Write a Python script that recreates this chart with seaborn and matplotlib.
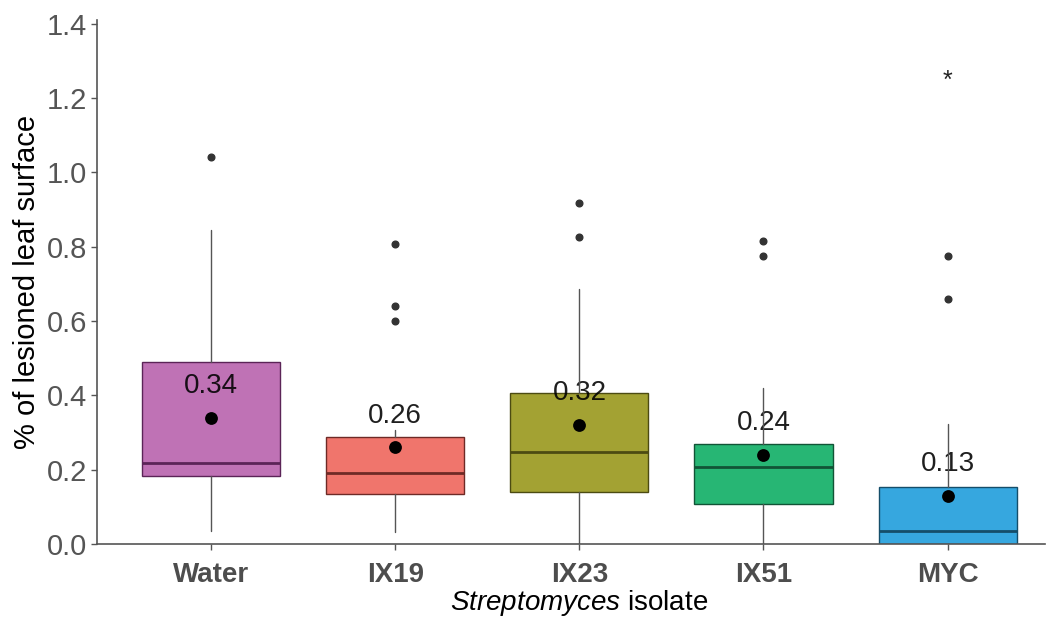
import matplotlib
matplotlib.use("Agg")
import matplotlib.pyplot as plt
import seaborn as sns
import pandas as pd

# ---- data ----
groups = ["Water", "IX19", "IX23", "IX51", "MYC"]
q1 = [0.183, 0.134, 0.140, 0.107, 0.000]
med = [0.217, 0.190, 0.247, 0.207, 0.035]
q3 = [0.490, 0.287, 0.405, 0.268, 0.153]
whislo = [0.035, 0.032, 0.000, 0.000, 0.000]
whishi = [0.846, 0.306, 0.687, 0.420, 0.322]
fliers = [[1.040], [0.808, 0.639, 0.599], [0.918, 0.827], [0.816, 0.776], [0.776, 0.660]]
means = [0.34, 0.26, 0.32, 0.24, 0.13]
mean_labels = ["0.34", "0.26", "0.32", "0.24", "0.13"]
star_value = 1.245
yticks = [0.0, 0.2, 0.4, 0.6, 0.8, 1.0, 1.2, 1.4]

fills = ["#BF72B5", "#F0756C", "#A3A233", "#27B674", "#36A7DF"]
edges = ["#5B2457", "#6E2A26", "#4C4B12", "#115436", "#154E6A"]

sns.set_theme(style="ticks")
plt.rcParams["font.family"] = ["Liberation Sans", "DejaVu Sans"]
plt.rcParams["mathtext.fontset"] = "custom"
plt.rcParams["mathtext.it"] = "Liberation Sans:italic"
plt.rcParams["mathtext.rm"] = "Liberation Sans"

fig = plt.figure(figsize=(10.5, 6.23), dpi=100)
ax = fig.add_axes([0.0924, 0.127, 0.903, 0.841])

stats = []
for i, g in enumerate(groups):
    stats.append(dict(label=g, q1=q1[i], med=med[i], q3=q3[i],
                      whislo=whislo[i], whishi=whishi[i], fliers=fliers[i]))

positions = list(range(len(groups)))
bp = ax.bxp(stats, positions=positions, widths=0.75, patch_artist=True,
            showcaps=False,
            flierprops=dict(marker="o", markersize=4.8, markerfacecolor="#333333",
                            markeredgecolor="#333333", linestyle="none"),
            whiskerprops=dict(color="#555555", linewidth=1.0, zorder=3),
            medianprops=dict(linewidth=2.0, zorder=3))
for i, box in enumerate(bp["boxes"]):
    box.set_facecolor(fills[i])
    box.set_edgecolor(edges[i])
    box.set_linewidth(1.0)
    box.set_zorder(2)
    bp["medians"][i].set_color(edges[i])

df = pd.DataFrame({"pos": positions, "mean": means})
sns.scatterplot(data=df, x="pos", y="mean", color="black", s=85,
                edgecolor="black", linewidth=0, zorder=4, ax=ax)

for i, lab in enumerate(mean_labels):
    ax.text(positions[i], means[i] + 0.085, lab, ha="center", va="center",
            fontsize=20, color="#000000", alpha=0.88, zorder=2.5)

ax.text(positions[-1], star_value, "*", ha="center", va="center",
        fontsize=18, color="#222222", zorder=4)

ax.set_xlim(-0.62, 4.53)
ax.set_ylim(0, 1.41)
ax.set_yticks(yticks)
ax.set_yticklabels([f"{v:.1f}" for v in yticks])
ax.set_xticks(positions)
ax.set_xticklabels(groups, fontweight="bold")
ax.tick_params(axis="both", colors="#555555", labelsize=20, length=4, width=1.0)
ax.tick_params(axis="x", labelcolor="#4D4D4D", pad=9)
ax.tick_params(axis="y", labelcolor="#555555", labelsize=21, pad=3)

ax.set_xlabel("")
ax.set_ylabel("% of lesioned leaf surface", fontsize=21, color="black", labelpad=4)
ax.text(2, -0.16, r"$\it{Streptomyces}$ isolate", ha="center", va="center",
        fontsize=20, color="black", transform=ax.transData, clip_on=False)

for s in ["top", "right"]:
    ax.spines[s].set_visible(False)
for s in ["left", "bottom"]:
    ax.spines[s].set_color("#555555")
    ax.spines[s].set_linewidth(1.2)

fig.savefig("out.png", dpi=100)
